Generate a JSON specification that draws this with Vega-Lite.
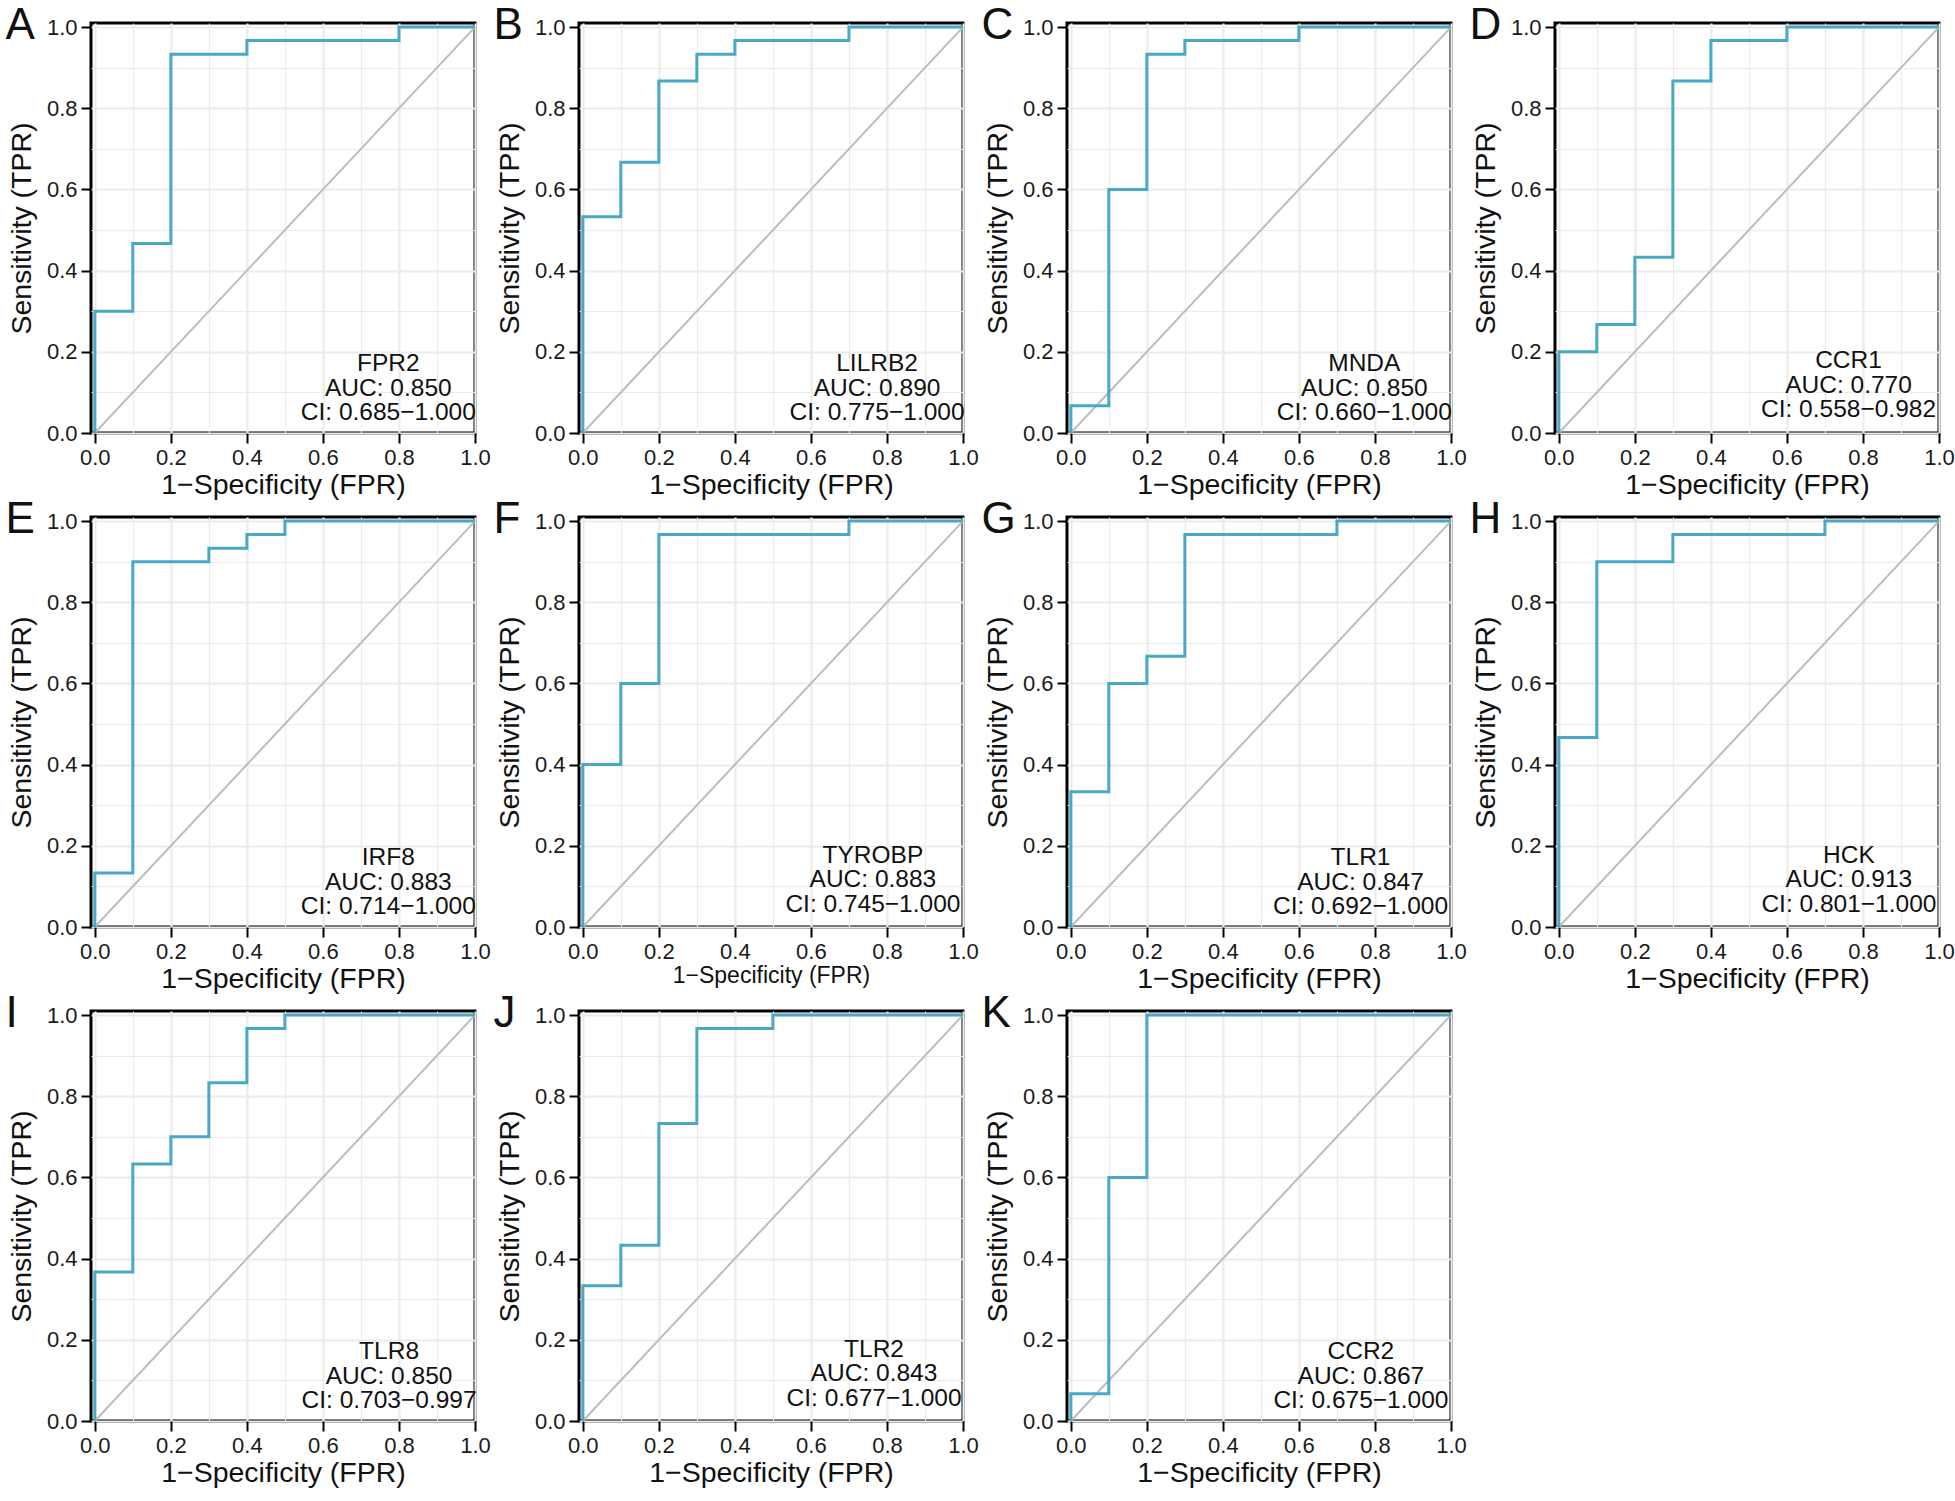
{
  "$schema": "https://vega.github.io/schema/vega-lite/v6.json",
  "padding": {"left": 3, "top": 2, "right": 0, "bottom": 0},
  "background": "white",
  "columns": 4,
  "spacing": {"row": -4, "column": -1},
  "datasets": {
    "roc": [
      {"gene": "FPR2", "k": 0, "fpr": 0, "tpr": 0},
      {"gene": "FPR2", "k": 1, "fpr": 0, "tpr": 0.3},
      {"gene": "FPR2", "k": 2, "fpr": 0.1, "tpr": 0.3},
      {"gene": "FPR2", "k": 3, "fpr": 0.1, "tpr": 0.467},
      {"gene": "FPR2", "k": 4, "fpr": 0.2, "tpr": 0.467},
      {"gene": "FPR2", "k": 5, "fpr": 0.2, "tpr": 0.933},
      {"gene": "FPR2", "k": 6, "fpr": 0.4, "tpr": 0.933},
      {"gene": "FPR2", "k": 7, "fpr": 0.4, "tpr": 0.967},
      {"gene": "FPR2", "k": 8, "fpr": 0.8, "tpr": 0.967},
      {"gene": "FPR2", "k": 9, "fpr": 0.8, "tpr": 1},
      {"gene": "FPR2", "k": 10, "fpr": 1, "tpr": 1},
      {"gene": "LILRB2", "k": 0, "fpr": 0, "tpr": 0},
      {"gene": "LILRB2", "k": 1, "fpr": 0, "tpr": 0.533},
      {"gene": "LILRB2", "k": 2, "fpr": 0.1, "tpr": 0.533},
      {"gene": "LILRB2", "k": 3, "fpr": 0.1, "tpr": 0.667},
      {"gene": "LILRB2", "k": 4, "fpr": 0.2, "tpr": 0.667},
      {"gene": "LILRB2", "k": 5, "fpr": 0.2, "tpr": 0.867},
      {"gene": "LILRB2", "k": 6, "fpr": 0.3, "tpr": 0.867},
      {"gene": "LILRB2", "k": 7, "fpr": 0.3, "tpr": 0.933},
      {"gene": "LILRB2", "k": 8, "fpr": 0.4, "tpr": 0.933},
      {"gene": "LILRB2", "k": 9, "fpr": 0.4, "tpr": 0.967},
      {"gene": "LILRB2", "k": 10, "fpr": 0.7, "tpr": 0.967},
      {"gene": "LILRB2", "k": 11, "fpr": 0.7, "tpr": 1},
      {"gene": "LILRB2", "k": 12, "fpr": 1, "tpr": 1},
      {"gene": "MNDA", "k": 0, "fpr": 0, "tpr": 0},
      {"gene": "MNDA", "k": 1, "fpr": 0, "tpr": 0.067},
      {"gene": "MNDA", "k": 2, "fpr": 0.1, "tpr": 0.067},
      {"gene": "MNDA", "k": 3, "fpr": 0.1, "tpr": 0.6},
      {"gene": "MNDA", "k": 4, "fpr": 0.2, "tpr": 0.6},
      {"gene": "MNDA", "k": 5, "fpr": 0.2, "tpr": 0.933},
      {"gene": "MNDA", "k": 6, "fpr": 0.3, "tpr": 0.933},
      {"gene": "MNDA", "k": 7, "fpr": 0.3, "tpr": 0.967},
      {"gene": "MNDA", "k": 8, "fpr": 0.6, "tpr": 0.967},
      {"gene": "MNDA", "k": 9, "fpr": 0.6, "tpr": 1},
      {"gene": "MNDA", "k": 10, "fpr": 1, "tpr": 1},
      {"gene": "CCR1", "k": 0, "fpr": 0, "tpr": 0},
      {"gene": "CCR1", "k": 1, "fpr": 0, "tpr": 0.2},
      {"gene": "CCR1", "k": 2, "fpr": 0.1, "tpr": 0.2},
      {"gene": "CCR1", "k": 3, "fpr": 0.1, "tpr": 0.267},
      {"gene": "CCR1", "k": 4, "fpr": 0.2, "tpr": 0.267},
      {"gene": "CCR1", "k": 5, "fpr": 0.2, "tpr": 0.433},
      {"gene": "CCR1", "k": 6, "fpr": 0.3, "tpr": 0.433},
      {"gene": "CCR1", "k": 7, "fpr": 0.3, "tpr": 0.867},
      {"gene": "CCR1", "k": 8, "fpr": 0.4, "tpr": 0.867},
      {"gene": "CCR1", "k": 9, "fpr": 0.4, "tpr": 0.967},
      {"gene": "CCR1", "k": 10, "fpr": 0.6, "tpr": 0.967},
      {"gene": "CCR1", "k": 11, "fpr": 0.6, "tpr": 1},
      {"gene": "CCR1", "k": 12, "fpr": 1, "tpr": 1},
      {"gene": "IRF8", "k": 0, "fpr": 0, "tpr": 0},
      {"gene": "IRF8", "k": 1, "fpr": 0, "tpr": 0.133},
      {"gene": "IRF8", "k": 2, "fpr": 0.1, "tpr": 0.133},
      {"gene": "IRF8", "k": 3, "fpr": 0.1, "tpr": 0.9},
      {"gene": "IRF8", "k": 4, "fpr": 0.3, "tpr": 0.9},
      {"gene": "IRF8", "k": 5, "fpr": 0.3, "tpr": 0.933},
      {"gene": "IRF8", "k": 6, "fpr": 0.4, "tpr": 0.933},
      {"gene": "IRF8", "k": 7, "fpr": 0.4, "tpr": 0.967},
      {"gene": "IRF8", "k": 8, "fpr": 0.5, "tpr": 0.967},
      {"gene": "IRF8", "k": 9, "fpr": 0.5, "tpr": 1},
      {"gene": "IRF8", "k": 10, "fpr": 1, "tpr": 1},
      {"gene": "TYROBP", "k": 0, "fpr": 0, "tpr": 0},
      {"gene": "TYROBP", "k": 1, "fpr": 0, "tpr": 0.4},
      {"gene": "TYROBP", "k": 2, "fpr": 0.1, "tpr": 0.4},
      {"gene": "TYROBP", "k": 3, "fpr": 0.1, "tpr": 0.6},
      {"gene": "TYROBP", "k": 4, "fpr": 0.2, "tpr": 0.6},
      {"gene": "TYROBP", "k": 5, "fpr": 0.2, "tpr": 0.967},
      {"gene": "TYROBP", "k": 6, "fpr": 0.7, "tpr": 0.967},
      {"gene": "TYROBP", "k": 7, "fpr": 0.7, "tpr": 1},
      {"gene": "TYROBP", "k": 8, "fpr": 1, "tpr": 1},
      {"gene": "TLR1", "k": 0, "fpr": 0, "tpr": 0},
      {"gene": "TLR1", "k": 1, "fpr": 0, "tpr": 0.333},
      {"gene": "TLR1", "k": 2, "fpr": 0.1, "tpr": 0.333},
      {"gene": "TLR1", "k": 3, "fpr": 0.1, "tpr": 0.6},
      {"gene": "TLR1", "k": 4, "fpr": 0.2, "tpr": 0.6},
      {"gene": "TLR1", "k": 5, "fpr": 0.2, "tpr": 0.667},
      {"gene": "TLR1", "k": 6, "fpr": 0.3, "tpr": 0.667},
      {"gene": "TLR1", "k": 7, "fpr": 0.3, "tpr": 0.967},
      {"gene": "TLR1", "k": 8, "fpr": 0.7, "tpr": 0.967},
      {"gene": "TLR1", "k": 9, "fpr": 0.7, "tpr": 1},
      {"gene": "TLR1", "k": 10, "fpr": 1, "tpr": 1},
      {"gene": "HCK", "k": 0, "fpr": 0, "tpr": 0},
      {"gene": "HCK", "k": 1, "fpr": 0, "tpr": 0.467},
      {"gene": "HCK", "k": 2, "fpr": 0.1, "tpr": 0.467},
      {"gene": "HCK", "k": 3, "fpr": 0.1, "tpr": 0.9},
      {"gene": "HCK", "k": 4, "fpr": 0.3, "tpr": 0.9},
      {"gene": "HCK", "k": 5, "fpr": 0.3, "tpr": 0.967},
      {"gene": "HCK", "k": 6, "fpr": 0.7, "tpr": 0.967},
      {"gene": "HCK", "k": 7, "fpr": 0.7, "tpr": 1},
      {"gene": "HCK", "k": 8, "fpr": 1, "tpr": 1},
      {"gene": "TLR8", "k": 0, "fpr": 0, "tpr": 0},
      {"gene": "TLR8", "k": 1, "fpr": 0, "tpr": 0.367},
      {"gene": "TLR8", "k": 2, "fpr": 0.1, "tpr": 0.367},
      {"gene": "TLR8", "k": 3, "fpr": 0.1, "tpr": 0.633},
      {"gene": "TLR8", "k": 4, "fpr": 0.2, "tpr": 0.633},
      {"gene": "TLR8", "k": 5, "fpr": 0.2, "tpr": 0.7},
      {"gene": "TLR8", "k": 6, "fpr": 0.3, "tpr": 0.7},
      {"gene": "TLR8", "k": 7, "fpr": 0.3, "tpr": 0.833},
      {"gene": "TLR8", "k": 8, "fpr": 0.4, "tpr": 0.833},
      {"gene": "TLR8", "k": 9, "fpr": 0.4, "tpr": 0.967},
      {"gene": "TLR8", "k": 10, "fpr": 0.5, "tpr": 0.967},
      {"gene": "TLR8", "k": 11, "fpr": 0.5, "tpr": 1},
      {"gene": "TLR8", "k": 12, "fpr": 1, "tpr": 1},
      {"gene": "TLR2", "k": 0, "fpr": 0, "tpr": 0},
      {"gene": "TLR2", "k": 1, "fpr": 0, "tpr": 0.333},
      {"gene": "TLR2", "k": 2, "fpr": 0.1, "tpr": 0.333},
      {"gene": "TLR2", "k": 3, "fpr": 0.1, "tpr": 0.433},
      {"gene": "TLR2", "k": 4, "fpr": 0.2, "tpr": 0.433},
      {"gene": "TLR2", "k": 5, "fpr": 0.2, "tpr": 0.733},
      {"gene": "TLR2", "k": 6, "fpr": 0.3, "tpr": 0.733},
      {"gene": "TLR2", "k": 7, "fpr": 0.3, "tpr": 0.967},
      {"gene": "TLR2", "k": 8, "fpr": 0.5, "tpr": 0.967},
      {"gene": "TLR2", "k": 9, "fpr": 0.5, "tpr": 1},
      {"gene": "TLR2", "k": 10, "fpr": 1, "tpr": 1},
      {"gene": "CCR2", "k": 0, "fpr": 0, "tpr": 0},
      {"gene": "CCR2", "k": 1, "fpr": 0, "tpr": 0.067},
      {"gene": "CCR2", "k": 2, "fpr": 0.1, "tpr": 0.067},
      {"gene": "CCR2", "k": 3, "fpr": 0.1, "tpr": 0.6},
      {"gene": "CCR2", "k": 4, "fpr": 0.2, "tpr": 0.6},
      {"gene": "CCR2", "k": 5, "fpr": 0.2, "tpr": 1},
      {"gene": "CCR2", "k": 6, "fpr": 1, "tpr": 1}
    ],
    "labels": [
      {"gene": "FPR2", "panel": "A", "label": "FPR2\nAUC: 0.850\nCI: 0.685−1.000"},
      {"gene": "LILRB2", "panel": "B", "label": "LILRB2\nAUC: 0.890\nCI: 0.775−1.000"},
      {"gene": "MNDA", "panel": "C", "label": "MNDA\nAUC: 0.850\nCI: 0.660−1.000"},
      {"gene": "CCR1", "panel": "D", "label": "CCR1\nAUC: 0.770\nCI: 0.558−0.982"},
      {"gene": "IRF8", "panel": "E", "label": "IRF8\nAUC: 0.883\nCI: 0.714−1.000"},
      {"gene": "TYROBP", "panel": "F", "label": "TYROBP\nAUC: 0.883\nCI: 0.745−1.000"},
      {"gene": "TLR1", "panel": "G", "label": "TLR1\nAUC: 0.847\nCI: 0.692−1.000"},
      {"gene": "HCK", "panel": "H", "label": "HCK\nAUC: 0.913\nCI: 0.801−1.000"},
      {"gene": "TLR8", "panel": "I", "label": "TLR8\nAUC: 0.850\nCI: 0.703−0.997"},
      {"gene": "TLR2", "panel": "J", "label": "TLR2\nAUC: 0.843\nCI: 0.677−1.000"},
      {"gene": "CCR2", "panel": "K", "label": "CCR2\nAUC: 0.867\nCI: 0.675−1.000"}
    ],
    "diag": [{"a": 0, "b": 1}]
  },
  "concat": [
    {"width": 384, "height": 410, "layer": [
      {"data": {"name": "diag"}, "mark": {"type": "rule", "color": "#BDBDBD", "strokeWidth": 2}, "encoding": {"x": {"field": "a", "type": "quantitative"}, "y": {"field": "a", "type": "quantitative"}, "x2": {"field": "b"}, "y2": {"field": "b"}}},
      {"data": {"name": "roc"}, "transform": [{"filter": "datum.gene === 'FPR2'"}], "mark": {"type": "line", "color": "#48A9C5", "strokeWidth": 3}, "encoding": {"x": {"field": "fpr", "type": "quantitative", "scale": {"domain": [-0.01, 1], "nice": false}, "title": "1−Specificity (FPR)"}, "y": {"field": "tpr", "type": "quantitative", "scale": {"domain": [0, 1.01], "nice": false}, "title": "Sensitivity (TPR)"}, "order": {"field": "k"}}},
      {"data": {"name": "labels"}, "transform": [{"filter": "datum.gene === 'FPR2'"}], "mark": {"type": "text", "align": "center", "baseline": "alphabetic", "lineBreak": "\n", "lineHeight": 24.5, "fontSize": 24.5, "color": "#111"}, "encoding": {"x": {"datum": 0.772, "type": "quantitative"}, "y": {"datum": 0.152, "type": "quantitative"}, "text": {"field": "label"}}},
      {"data": {"name": "labels"}, "transform": [{"filter": "datum.gene === 'FPR2'"}], "mark": {"type": "text", "align": "left", "baseline": "alphabetic", "fontSize": 44, "color": "#111"}, "encoding": {"x": {"datum": -0.235, "type": "quantitative"}, "y": {"datum": 0.97, "type": "quantitative"}, "text": {"field": "panel"}}}
    ]},
    {"width": 384, "height": 410, "layer": [
      {"data": {"name": "diag"}, "mark": {"type": "rule", "color": "#BDBDBD", "strokeWidth": 2}, "encoding": {"x": {"field": "a", "type": "quantitative"}, "y": {"field": "a", "type": "quantitative"}, "x2": {"field": "b"}, "y2": {"field": "b"}}},
      {"data": {"name": "roc"}, "transform": [{"filter": "datum.gene === 'LILRB2'"}], "mark": {"type": "line", "color": "#48A9C5", "strokeWidth": 3}, "encoding": {"x": {"field": "fpr", "type": "quantitative", "scale": {"domain": [-0.01, 1], "nice": false}, "title": "1−Specificity (FPR)"}, "y": {"field": "tpr", "type": "quantitative", "scale": {"domain": [0, 1.01], "nice": false}, "title": "Sensitivity (TPR)"}, "order": {"field": "k"}}},
      {"data": {"name": "labels"}, "transform": [{"filter": "datum.gene === 'LILRB2'"}], "mark": {"type": "text", "align": "center", "baseline": "alphabetic", "lineBreak": "\n", "lineHeight": 24.5, "fontSize": 24.5, "color": "#111"}, "encoding": {"x": {"datum": 0.774, "type": "quantitative"}, "y": {"datum": 0.152, "type": "quantitative"}, "text": {"field": "label"}}},
      {"data": {"name": "labels"}, "transform": [{"filter": "datum.gene === 'LILRB2'"}], "mark": {"type": "text", "align": "left", "baseline": "alphabetic", "fontSize": 44, "color": "#111"}, "encoding": {"x": {"datum": -0.235, "type": "quantitative"}, "y": {"datum": 0.97, "type": "quantitative"}, "text": {"field": "panel"}}}
    ]},
    {"width": 384, "height": 410, "layer": [
      {"data": {"name": "diag"}, "mark": {"type": "rule", "color": "#BDBDBD", "strokeWidth": 2}, "encoding": {"x": {"field": "a", "type": "quantitative"}, "y": {"field": "a", "type": "quantitative"}, "x2": {"field": "b"}, "y2": {"field": "b"}}},
      {"data": {"name": "roc"}, "transform": [{"filter": "datum.gene === 'MNDA'"}], "mark": {"type": "line", "color": "#48A9C5", "strokeWidth": 3}, "encoding": {"x": {"field": "fpr", "type": "quantitative", "scale": {"domain": [-0.01, 1], "nice": false}, "title": "1−Specificity (FPR)"}, "y": {"field": "tpr", "type": "quantitative", "scale": {"domain": [0, 1.01], "nice": false}, "title": "Sensitivity (TPR)"}, "order": {"field": "k"}}},
      {"data": {"name": "labels"}, "transform": [{"filter": "datum.gene === 'MNDA'"}], "mark": {"type": "text", "align": "center", "baseline": "alphabetic", "lineBreak": "\n", "lineHeight": 24.5, "fontSize": 24.5, "color": "#111"}, "encoding": {"x": {"datum": 0.772, "type": "quantitative"}, "y": {"datum": 0.152, "type": "quantitative"}, "text": {"field": "label"}}},
      {"data": {"name": "labels"}, "transform": [{"filter": "datum.gene === 'MNDA'"}], "mark": {"type": "text", "align": "left", "baseline": "alphabetic", "fontSize": 44, "color": "#111"}, "encoding": {"x": {"datum": -0.235, "type": "quantitative"}, "y": {"datum": 0.97, "type": "quantitative"}, "text": {"field": "panel"}}}
    ]},
    {"width": 384, "height": 410, "layer": [
      {"data": {"name": "diag"}, "mark": {"type": "rule", "color": "#BDBDBD", "strokeWidth": 2}, "encoding": {"x": {"field": "a", "type": "quantitative"}, "y": {"field": "a", "type": "quantitative"}, "x2": {"field": "b"}, "y2": {"field": "b"}}},
      {"data": {"name": "roc"}, "transform": [{"filter": "datum.gene === 'CCR1'"}], "mark": {"type": "line", "color": "#48A9C5", "strokeWidth": 3}, "encoding": {"x": {"field": "fpr", "type": "quantitative", "scale": {"domain": [-0.01, 1], "nice": false}, "title": "1−Specificity (FPR)"}, "y": {"field": "tpr", "type": "quantitative", "scale": {"domain": [0, 1.01], "nice": false}, "title": "Sensitivity (TPR)"}, "order": {"field": "k"}}},
      {"data": {"name": "labels"}, "transform": [{"filter": "datum.gene === 'CCR1'"}], "mark": {"type": "text", "align": "center", "baseline": "alphabetic", "lineBreak": "\n", "lineHeight": 24.5, "fontSize": 24.5, "color": "#111"}, "encoding": {"x": {"datum": 0.762, "type": "quantitative"}, "y": {"datum": 0.16, "type": "quantitative"}, "text": {"field": "label"}}},
      {"data": {"name": "labels"}, "transform": [{"filter": "datum.gene === 'CCR1'"}], "mark": {"type": "text", "align": "left", "baseline": "alphabetic", "fontSize": 44, "color": "#111"}, "encoding": {"x": {"datum": -0.235, "type": "quantitative"}, "y": {"datum": 0.97, "type": "quantitative"}, "text": {"field": "panel"}}}
    ]},
    {"width": 384, "height": 410, "layer": [
      {"data": {"name": "diag"}, "mark": {"type": "rule", "color": "#BDBDBD", "strokeWidth": 2}, "encoding": {"x": {"field": "a", "type": "quantitative"}, "y": {"field": "a", "type": "quantitative"}, "x2": {"field": "b"}, "y2": {"field": "b"}}},
      {"data": {"name": "roc"}, "transform": [{"filter": "datum.gene === 'IRF8'"}], "mark": {"type": "line", "color": "#48A9C5", "strokeWidth": 3}, "encoding": {"x": {"field": "fpr", "type": "quantitative", "scale": {"domain": [-0.01, 1], "nice": false}, "title": "1−Specificity (FPR)"}, "y": {"field": "tpr", "type": "quantitative", "scale": {"domain": [0, 1.01], "nice": false}, "title": "Sensitivity (TPR)"}, "order": {"field": "k"}}},
      {"data": {"name": "labels"}, "transform": [{"filter": "datum.gene === 'IRF8'"}], "mark": {"type": "text", "align": "center", "baseline": "alphabetic", "lineBreak": "\n", "lineHeight": 24.5, "fontSize": 24.5, "color": "#111"}, "encoding": {"x": {"datum": 0.772, "type": "quantitative"}, "y": {"datum": 0.152, "type": "quantitative"}, "text": {"field": "label"}}},
      {"data": {"name": "labels"}, "transform": [{"filter": "datum.gene === 'IRF8'"}], "mark": {"type": "text", "align": "left", "baseline": "alphabetic", "fontSize": 44, "color": "#111"}, "encoding": {"x": {"datum": -0.235, "type": "quantitative"}, "y": {"datum": 0.97, "type": "quantitative"}, "text": {"field": "panel"}}}
    ]},
    {"width": 384, "height": 410, "layer": [
      {"data": {"name": "diag"}, "mark": {"type": "rule", "color": "#BDBDBD", "strokeWidth": 2}, "encoding": {"x": {"field": "a", "type": "quantitative"}, "y": {"field": "a", "type": "quantitative"}, "x2": {"field": "b"}, "y2": {"field": "b"}}},
      {"data": {"name": "roc"}, "transform": [{"filter": "datum.gene === 'TYROBP'"}], "mark": {"type": "line", "color": "#48A9C5", "strokeWidth": 3}, "encoding": {"x": {"field": "fpr", "type": "quantitative", "scale": {"domain": [-0.01, 1], "nice": false}, "title": "1−Specificity (FPR)", "axis": {"titleFontSize": 23}}, "y": {"field": "tpr", "type": "quantitative", "scale": {"domain": [0, 1.01], "nice": false}, "title": "Sensitivity (TPR)"}, "order": {"field": "k"}}},
      {"data": {"name": "labels"}, "transform": [{"filter": "datum.gene === 'TYROBP'"}], "mark": {"type": "text", "align": "center", "baseline": "alphabetic", "lineBreak": "\n", "lineHeight": 24.5, "fontSize": 24.5, "color": "#111"}, "encoding": {"x": {"datum": 0.763, "type": "quantitative"}, "y": {"datum": 0.158, "type": "quantitative"}, "text": {"field": "label"}}},
      {"data": {"name": "labels"}, "transform": [{"filter": "datum.gene === 'TYROBP'"}], "mark": {"type": "text", "align": "left", "baseline": "alphabetic", "fontSize": 44, "color": "#111"}, "encoding": {"x": {"datum": -0.235, "type": "quantitative"}, "y": {"datum": 0.97, "type": "quantitative"}, "text": {"field": "panel"}}}
    ]},
    {"width": 384, "height": 410, "layer": [
      {"data": {"name": "diag"}, "mark": {"type": "rule", "color": "#BDBDBD", "strokeWidth": 2}, "encoding": {"x": {"field": "a", "type": "quantitative"}, "y": {"field": "a", "type": "quantitative"}, "x2": {"field": "b"}, "y2": {"field": "b"}}},
      {"data": {"name": "roc"}, "transform": [{"filter": "datum.gene === 'TLR1'"}], "mark": {"type": "line", "color": "#48A9C5", "strokeWidth": 3}, "encoding": {"x": {"field": "fpr", "type": "quantitative", "scale": {"domain": [-0.01, 1], "nice": false}, "title": "1−Specificity (FPR)"}, "y": {"field": "tpr", "type": "quantitative", "scale": {"domain": [0, 1.01], "nice": false}, "title": "Sensitivity (TPR)"}, "order": {"field": "k"}}},
      {"data": {"name": "labels"}, "transform": [{"filter": "datum.gene === 'TLR1'"}], "mark": {"type": "text", "align": "center", "baseline": "alphabetic", "lineBreak": "\n", "lineHeight": 24.5, "fontSize": 24.5, "color": "#111"}, "encoding": {"x": {"datum": 0.762, "type": "quantitative"}, "y": {"datum": 0.152, "type": "quantitative"}, "text": {"field": "label"}}},
      {"data": {"name": "labels"}, "transform": [{"filter": "datum.gene === 'TLR1'"}], "mark": {"type": "text", "align": "left", "baseline": "alphabetic", "fontSize": 44, "color": "#111"}, "encoding": {"x": {"datum": -0.235, "type": "quantitative"}, "y": {"datum": 0.97, "type": "quantitative"}, "text": {"field": "panel"}}}
    ]},
    {"width": 384, "height": 410, "layer": [
      {"data": {"name": "diag"}, "mark": {"type": "rule", "color": "#BDBDBD", "strokeWidth": 2}, "encoding": {"x": {"field": "a", "type": "quantitative"}, "y": {"field": "a", "type": "quantitative"}, "x2": {"field": "b"}, "y2": {"field": "b"}}},
      {"data": {"name": "roc"}, "transform": [{"filter": "datum.gene === 'HCK'"}], "mark": {"type": "line", "color": "#48A9C5", "strokeWidth": 3}, "encoding": {"x": {"field": "fpr", "type": "quantitative", "scale": {"domain": [-0.01, 1], "nice": false}, "title": "1−Specificity (FPR)"}, "y": {"field": "tpr", "type": "quantitative", "scale": {"domain": [0, 1.01], "nice": false}, "title": "Sensitivity (TPR)"}, "order": {"field": "k"}}},
      {"data": {"name": "labels"}, "transform": [{"filter": "datum.gene === 'HCK'"}], "mark": {"type": "text", "align": "center", "baseline": "alphabetic", "lineBreak": "\n", "lineHeight": 24.5, "fontSize": 24.5, "color": "#111"}, "encoding": {"x": {"datum": 0.763, "type": "quantitative"}, "y": {"datum": 0.158, "type": "quantitative"}, "text": {"field": "label"}}},
      {"data": {"name": "labels"}, "transform": [{"filter": "datum.gene === 'HCK'"}], "mark": {"type": "text", "align": "left", "baseline": "alphabetic", "fontSize": 44, "color": "#111"}, "encoding": {"x": {"datum": -0.235, "type": "quantitative"}, "y": {"datum": 0.97, "type": "quantitative"}, "text": {"field": "panel"}}}
    ]},
    {"width": 384, "height": 410, "layer": [
      {"data": {"name": "diag"}, "mark": {"type": "rule", "color": "#BDBDBD", "strokeWidth": 2}, "encoding": {"x": {"field": "a", "type": "quantitative"}, "y": {"field": "a", "type": "quantitative"}, "x2": {"field": "b"}, "y2": {"field": "b"}}},
      {"data": {"name": "roc"}, "transform": [{"filter": "datum.gene === 'TLR8'"}], "mark": {"type": "line", "color": "#48A9C5", "strokeWidth": 3}, "encoding": {"x": {"field": "fpr", "type": "quantitative", "scale": {"domain": [-0.01, 1], "nice": false}, "title": "1−Specificity (FPR)"}, "y": {"field": "tpr", "type": "quantitative", "scale": {"domain": [0, 1.01], "nice": false}, "title": "Sensitivity (TPR)"}, "order": {"field": "k"}}},
      {"data": {"name": "labels"}, "transform": [{"filter": "datum.gene === 'TLR8'"}], "mark": {"type": "text", "align": "center", "baseline": "alphabetic", "lineBreak": "\n", "lineHeight": 24.5, "fontSize": 24.5, "color": "#111"}, "encoding": {"x": {"datum": 0.774, "type": "quantitative"}, "y": {"datum": 0.152, "type": "quantitative"}, "text": {"field": "label"}}},
      {"data": {"name": "labels"}, "transform": [{"filter": "datum.gene === 'TLR8'"}], "mark": {"type": "text", "align": "left", "baseline": "alphabetic", "fontSize": 44, "color": "#111"}, "encoding": {"x": {"datum": -0.235, "type": "quantitative"}, "y": {"datum": 0.97, "type": "quantitative"}, "text": {"field": "panel"}}}
    ]},
    {"width": 384, "height": 410, "layer": [
      {"data": {"name": "diag"}, "mark": {"type": "rule", "color": "#BDBDBD", "strokeWidth": 2}, "encoding": {"x": {"field": "a", "type": "quantitative"}, "y": {"field": "a", "type": "quantitative"}, "x2": {"field": "b"}, "y2": {"field": "b"}}},
      {"data": {"name": "roc"}, "transform": [{"filter": "datum.gene === 'TLR2'"}], "mark": {"type": "line", "color": "#48A9C5", "strokeWidth": 3}, "encoding": {"x": {"field": "fpr", "type": "quantitative", "scale": {"domain": [-0.01, 1], "nice": false}, "title": "1−Specificity (FPR)"}, "y": {"field": "tpr", "type": "quantitative", "scale": {"domain": [0, 1.01], "nice": false}, "title": "Sensitivity (TPR)"}, "order": {"field": "k"}}},
      {"data": {"name": "labels"}, "transform": [{"filter": "datum.gene === 'TLR2'"}], "mark": {"type": "text", "align": "center", "baseline": "alphabetic", "lineBreak": "\n", "lineHeight": 24.5, "fontSize": 24.5, "color": "#111"}, "encoding": {"x": {"datum": 0.766, "type": "quantitative"}, "y": {"datum": 0.158, "type": "quantitative"}, "text": {"field": "label"}}},
      {"data": {"name": "labels"}, "transform": [{"filter": "datum.gene === 'TLR2'"}], "mark": {"type": "text", "align": "left", "baseline": "alphabetic", "fontSize": 44, "color": "#111"}, "encoding": {"x": {"datum": -0.235, "type": "quantitative"}, "y": {"datum": 0.97, "type": "quantitative"}, "text": {"field": "panel"}}}
    ]},
    {"width": 384, "height": 410, "layer": [
      {"data": {"name": "diag"}, "mark": {"type": "rule", "color": "#BDBDBD", "strokeWidth": 2}, "encoding": {"x": {"field": "a", "type": "quantitative"}, "y": {"field": "a", "type": "quantitative"}, "x2": {"field": "b"}, "y2": {"field": "b"}}},
      {"data": {"name": "roc"}, "transform": [{"filter": "datum.gene === 'CCR2'"}], "mark": {"type": "line", "color": "#48A9C5", "strokeWidth": 3}, "encoding": {"x": {"field": "fpr", "type": "quantitative", "scale": {"domain": [-0.01, 1], "nice": false}, "title": "1−Specificity (FPR)"}, "y": {"field": "tpr", "type": "quantitative", "scale": {"domain": [0, 1.01], "nice": false}, "title": "Sensitivity (TPR)"}, "order": {"field": "k"}}},
      {"data": {"name": "labels"}, "transform": [{"filter": "datum.gene === 'CCR2'"}], "mark": {"type": "text", "align": "center", "baseline": "alphabetic", "lineBreak": "\n", "lineHeight": 24.5, "fontSize": 24.5, "color": "#111"}, "encoding": {"x": {"datum": 0.763, "type": "quantitative"}, "y": {"datum": 0.152, "type": "quantitative"}, "text": {"field": "label"}}},
      {"data": {"name": "labels"}, "transform": [{"filter": "datum.gene === 'CCR2'"}], "mark": {"type": "text", "align": "left", "baseline": "alphabetic", "fontSize": 44, "color": "#111"}, "encoding": {"x": {"datum": -0.235, "type": "quantitative"}, "y": {"datum": 0.97, "type": "quantitative"}, "text": {"field": "panel"}}}
    ]}
  ],
  "config": {
    "font": "Liberation Sans",
    "view": {"stroke": "#000000", "strokeWidth": 3},
    "axis": {
      "domain": false,
      "tickCount": 10,
      "tickColor": "#000000",
      "tickWidth": 2,
      "tickSize": 10,
      "tickOpacity": {"condition": {"test": "round(datum.value*10) % 2 == 0", "value": 1}, "value": 0},
      "gridColor": "#EBEBEB",
      "gridWidth": {"condition": {"test": "round(datum.value*10) % 2 == 0", "value": 2.2}, "value": 1.1},
      "labelExpr": "round(datum.value*10) % 2 == 0 ? format(datum.value, '.1f') : ''",
      "labelFontSize": 22,
      "labelColor": "#1a1a1a",
      "labelFlush": false,
      "labelOverlap": false,
      "labelPadding": 4,
      "titleFontSize": 28.5,
      "titleFontWeight": "normal",
      "titleColor": "#111111"
    },
    "axisX": {"titlePadding": 2, "labelAngle": 0},
    "axisY": {"titlePadding": 10}
  }
}
